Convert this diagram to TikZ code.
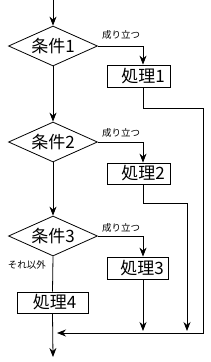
\documentclass[tikz,border=0pt]{standalone}
\usepackage{fontspec}
\setmainfont{Noto Sans CJK JP}
\usetikzlibrary{shapes.geometric,arrows.meta}
\begin{document}
\begin{tikzpicture}[x=1pt,y=1pt,line width=0.8pt,
  cond/.style={diamond,draw,aspect=2.2,inner sep=0pt,minimum width=89pt,minimum height=40pt,font=\fontsize{17}{17}\selectfont},
  proc/.style={rectangle,draw,inner sep=0pt,minimum height=22pt,font=\fontsize{17}{17}\selectfont},
  lab/.style={font=\fontsize{9.5}{9.5}\selectfont,inner sep=0pt},
  arr/.style={-{Stealth[length=9pt,width=7pt]}}]
\useasboundingbox (0,0) rectangle (211,-362);
% nodes
\node[cond] (d1) at (53,-46) {条件1};
\node[cond] (d2) at (53,-142) {条件2};
\node[cond] (d3) at (53,-236) {条件3};
\node[proc,minimum width=63pt] (b1) at (138.5,-76) {\hspace*{9pt}処理1};
\node[proc,minimum width=63pt,minimum height=21pt] (b2) at (138.5,-173.5) {\hspace*{9pt}処理2};
\node[proc,minimum width=61pt] (b3) at (137.5,-268) {\hspace*{9pt}処理3};
\node[proc,minimum width=71pt,minimum height=21pt] (b4) at (52.5,-302.5) {\hspace*{4pt}処理4};
\node[lab] (l1) at (121,-35) {成り立つ};
\node[lab] (l2) at (121,-133) {成り立つ};
\node[lab] (l3) at (121,-228) {成り立つ};
\node[lab] (l4) at (27,-265) {それ以外};
% coordinates
\coordinate (top) at (53,0);
\coordinate (c) at (143,0);
\coordinate (r1) at (203,-108);
\coordinate (r2) at (187,-203);
\coordinate (m) at (57,-333);
\coordinate (e2) at (187,-331);
\coordinate (e3) at (143,-331);
\coordinate (end) at (53,-357);
% connectors
\draw[arr] (top) -- (d1.north);
\draw[arr] (d1.south) -- (d2.north);
\draw[arr] (d2.south) -- (d3.north);
\draw (d3.south) -- (b4.north);
\draw[arr] (b4.south) -- (end);
\draw[arr] (d1.east) -| (c |- b1.north);
\draw[arr] (d2.east) -| (c |- b2.north);
\draw[arr] (d3.east) -| (c |- b3.north);
\draw[arr] (c |- b1.south) |- (r1) |- (m);
\draw[arr] (c |- b2.south) |- (r2) -- (e2);
\draw[arr] (c |- b3.south) -- (e3);
\end{tikzpicture}
\end{document}
